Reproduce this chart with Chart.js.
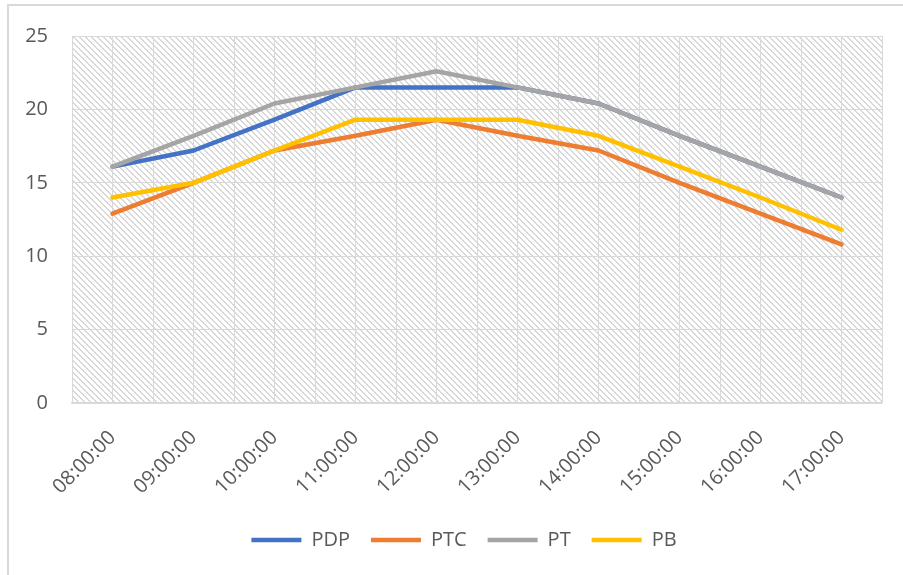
<!DOCTYPE html>
<html>
<head>
<meta charset="utf-8">
<script src="https://cdn.jsdelivr.net/npm/chart.js@4.4.1/dist/chart.umd.min.js"></script>
<style>
  html, body { margin: 0; padding: 0; background: #fff; overflow: hidden; }
  #wrap { position: relative; width: 903px; height: 575px; }
  #frame { position: absolute; left: 7px; top: 4px; width: 920px; height: 600px;
           border: 2px solid #d9d9d9; box-sizing: border-box; pointer-events: none; }
  canvas { position: absolute; left: 0; top: 0; }
</style>
</head>
<body>
<div id="wrap">
  <canvas id="chart" width="903" height="575"></canvas>
  <div id="frame"></div>
</div>
<script>
const hours = ["08:00:00", "09:00:00", "10:00:00", "11:00:00", "12:00:00",
               "13:00:00", "14:00:00", "15:00:00", "16:00:00", "17:00:00"];
const pdp = [16.1, 17.2, 19.3, 21.5, 21.5, 21.5, 20.4, 18.2, 16.1, 14.0];
const ptc = [12.9, 15.0, 17.2, 18.2, 19.3, 18.2, 17.2, 15.0, 12.9, 10.8];
const pt  = [16.1, 18.2, 20.4, 21.5, 22.6, 21.5, 20.4, 18.2, 16.1, 14.0];
const pb  = [14.0, 15.0, 17.2, 19.3, 19.3, 19.3, 18.2, 16.1, 14.0, 11.8];
const yTicks = [0, 5, 10, 15, 20, 25];

const textColor = "#595959";
const gridColor = "#d9d9d9";

Chart.defaults.font.family = "'Open Sans', 'Liberation Sans', sans-serif";
Chart.defaults.font.size = 20;
Chart.defaults.color = textColor;

// diagonal hatch tile for the plot background
function makeHatch() {
  const c = document.createElement("canvas");
  c.width = 6; c.height = 6;
  const g = c.getContext("2d");
  g.fillStyle = "#ffffff";
  g.fillRect(0, 0, 6, 6);
  g.fillStyle = "#d8d8d8";
  for (let y = 0; y < 6; y++) {
    for (let x = 0; x < 6; x++) {
      if (((x - y) % 6 + 6) % 6 < 2) g.fillRect(x, y, 1, 1);
    }
  }
  return g.createPattern(c, "repeat");
}

const hatchBg = {
  id: "hatchBg",
  beforeDraw(chart) {
    const { ctx, chartArea: a } = chart;
    ctx.save();
    ctx.fillStyle = makeHatch();
    ctx.fillRect(a.left, a.top, a.right - a.left, a.bottom - a.top);
    ctx.restore();
  }
};

// centre the legend under the plot area rather than the whole canvas
const legendUnderPlot = {
  id: "legendUnderPlot",
  afterLayout(chart) {
    const lg = chart.legend;
    const shift = chart.chartArea.left - lg.left - 26;
    lg.left += shift;
    lg.width -= shift;
  }
};

function series(label, data, color, order) {
  return {
    label, data, order,
    borderColor: color,
    backgroundColor: color,
    borderWidth: 4.5,
    borderCapStyle: "round",
    borderJoinStyle: "round",
    pointRadius: 0,
    pointHoverRadius: 0,
    tension: 0,
    fill: false
  };
}

new Chart(document.getElementById("chart"), {
  type: "line",
  data: {
    labels: hours,
    datasets: [
      series("PDP", pdp, "#4472c4", 4),
      series("PTC", ptc, "#ed7d31", 3),
      series("PT", pt, "#a5a5a5", 2),
      series("PB", pb, "#ffc000", 1)
    ]
  },
  plugins: [hatchBg, legendUnderPlot],
  options: {
    responsive: false,
    animation: false,
    layout: { padding: { left: 0, top: 34, right: 21, bottom: 15 } },
    plugins: {
      tooltip: { enabled: false },
      legend: {
        position: "bottom",
        labels: {
          usePointStyle: true,
          pointStyle: "line",
          pointStyleWidth: 50,
          padding: 21,
          color: textColor,
          sort: (a, b) => a.datasetIndex - b.datasetIndex
        }
      }
    },
    scales: {
      x: {
        type: "category",
        offset: true,
        grid: { display: false, drawTicks: false },
        border: { display: true, color: gridColor, width: 1.5 },
        ticks: { maxRotation: 45, minRotation: 45, padding: 23, color: textColor },
        afterFit(scale) { scale.height = 106; }
      },
      // vertical grid at every category centre and boundary
      xGrid: {
        type: "linear",
        position: "top",
        min: -0.5,
        max: 9.5,
        grid: { color: gridColor, lineWidth: 1, drawTicks: false },
        border: { display: false },
        ticks: { display: false, stepSize: 0.5, maxTicksLimit: 100 },
        afterFit(scale) { scale.height = 0; }
      },
      y: {
        min: 0,
        max: 25,
        afterBuildTicks(scale) { scale.ticks = yTicks.map(v => ({ value: v })); },
        grid: { color: gridColor, lineWidth: 1, drawTicks: false },
        border: { display: false },
        ticks: { padding: 24, color: textColor },
        afterFit(scale) { scale.width = 72; }
      }
    }
  }
});
</script>
</body>
</html>
